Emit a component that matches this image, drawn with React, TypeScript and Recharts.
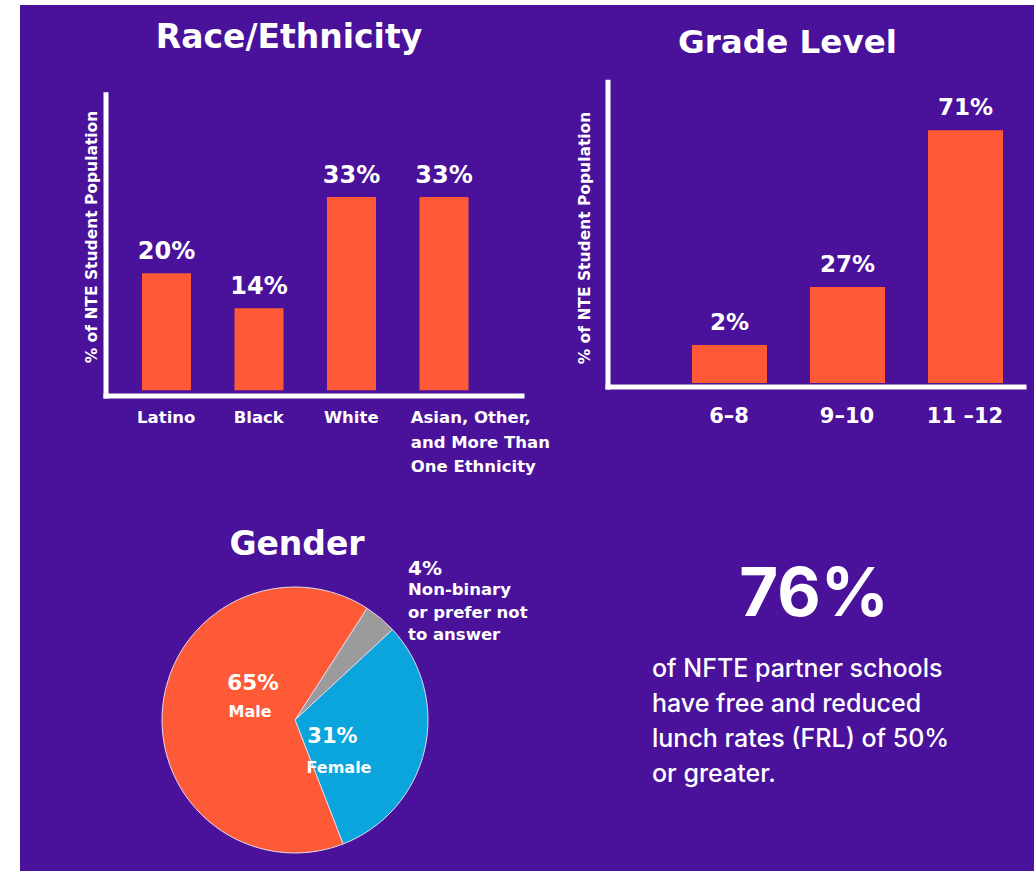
import React from 'react';
import { BarChart, Bar, XAxis, YAxis, LabelList, PieChart, Pie, Cell } from 'recharts';

// ---- data ----
const raceCategories = ['Latino', 'Black', 'White', 'Asian, Other,\nand More Than\nOne Ethnicity'];
const raceValues = [20, 14, 33, 33];

const gradeCategories = ['6–8', '9–10', '11 –12'];
const gradeValues = [2, 27, 71];

const genderLabels = ['Non-binary or prefer not to answer', 'Female', 'Male'];
const genderValues = [4, 31, 65];

const frlValue = 76;
const frlTextLines = [
  'of NFTE partner schools',
  'have free and reduced',
  'lunch rates (FRL) of 50%',
  'or greater.',
];

const yAxisTitle = '% of NTE Student Population';

// ---- styles ----
const PURPLE = '#4A129B';
const ORANGE = '#FF5A37';
const BLUE = '#0AA5DC';
const GRAY = '#9B9B9B';
const WHITE = '#FFFFFF';
const BOLD_FONT = '"DejaVu Sans", sans-serif';
const TEXT_FONT = 'Inter, "Noto Sans", sans-serif';

const raceData = raceCategories.map((c, i) => ({ cat: c, value: raceValues[i] }));
const gradeData = gradeCategories.map((c, i) => ({ cat: c, value: gradeValues[i] }));
const genderData = genderLabels.map((n, i) => ({ name: n, value: genderValues[i] }));
const genderColors = [GRAY, BLUE, ORANGE];

const pct = (v: any) => `${v}%`;

const RaceTick = (props: any) => {
  const { x, y, payload } = props;
  const lines = String(payload.value).split('\n');
  const multi = lines.length > 1;
  const tx = multi ? x - 33 : x;
  return (
    <text
      x={tx}
      y={y}
      textAnchor={multi ? 'start' : 'middle'}
      fill={WHITE}
      fontFamily={BOLD_FONT}
      fontWeight="bold"
      fontSize={16.5}
    >
      {lines.map((l, i) => (
        <tspan key={i} x={tx} dy={i === 0 ? 27 : 24.5}>
          {l}
        </tspan>
      ))}
    </text>
  );
};

const GradeTick = (props: any) => {
  const { x, y, payload } = props;
  return (
    <text x={x} y={y + 36} textAnchor="middle" fill={WHITE} fontFamily={BOLD_FONT} fontWeight="bold" fontSize={21}>
      {payload.value}
    </text>
  );
};

const axisLineStyle = { stroke: WHITE, strokeWidth: 5, strokeLinecap: 'square' as const };

export default function App() {
  return (
    <div style={{ position: 'absolute', left: 0, top: 0, width: 1034, height: 871, background: '#fff', overflow: 'hidden' }}>
      <div style={{ position: 'absolute', left: 20, top: 5, width: 1014, height: 866, background: PURPLE }} />

      {/* Race / Ethnicity */}
      <div style={{ position: 'absolute', left: 60, top: 60 }}>
        <BarChart width={500} height={416} data={raceData} margin={{ top: 34.75, right: 38, bottom: 0, left: 45 }}>
          <YAxis type="number" domain={[-1, 50.5]} width={1} tick={false} tickLine={false} axisLine={axisLineStyle} />
          <XAxis
            dataKey="cat"
            height={80}
            interval={0}
            tickLine={false}
            tickSize={0}
            tickMargin={0}
            padding={{ left: 14, right: 32 }}
            axisLine={axisLineStyle}
            tick={<RaceTick />}
          />
          <Bar dataKey="value" fill={ORANGE} barSize={49} isAnimationActive={false}>
            <LabelList
              dataKey="value"
              position="top"
              offset={14}
              formatter={pct}
              fill={WHITE}
              fontFamily={BOLD_FONT}
              fontWeight="bold"
              fontSize={24}
            />
          </Bar>
        </BarChart>
      </div>

      {/* Grade Level */}
      <div style={{ position: 'absolute', left: 560, top: 50 }}>
        <BarChart width={474} height={417} data={gradeData} margin={{ top: 32.2, right: 10, bottom: 0, left: 47 }}>
          <YAxis type="number" domain={[-1.1, 84.5]} width={1} tick={false} tickLine={false} axisLine={axisLineStyle} />
          <XAxis
            dataKey="cat"
            height={80}
            interval={0}
            tickLine={false}
            tickSize={0}
            tickMargin={0}
            padding={{ left: 62, right: 0 }}
            axisLine={axisLineStyle}
            tick={<GradeTick />}
          />
          <Bar dataKey="value" fill={ORANGE} barSize={75} minPointSize={38} isAnimationActive={false}>
            <LabelList
              dataKey="value"
              position="top"
              offset={15}
              formatter={pct}
              fill={WHITE}
              fontFamily={BOLD_FONT}
              fontWeight="bold"
              fontSize={23}
            />
          </Bar>
        </BarChart>
      </div>

      {/* Gender pie */}
      <div style={{ position: 'absolute', left: 145, top: 570 }}>
        <PieChart width={300} height={300} margin={{ top: 0, right: 0, bottom: 0, left: 0 }}>
          <Pie
            data={genderData}
            dataKey="value"
            nameKey="name"
            cx={150}
            cy={150}
            outerRadius={133}
            startAngle={57.2}
            endAngle={-302.8}
            stroke="#E2DAEE"
            strokeWidth={1}
            isAnimationActive={false}
          >
            {genderData.map((d, i) => (
              <Cell key={d.name} fill={genderColors[i]} />
            ))}
          </Pie>
        </PieChart>
      </div>

      {/* Text overlay */}
      <svg width={1034} height={871} style={{ position: 'absolute', left: 0, top: 0, pointerEvents: 'none' }}>
        <g fill={WHITE} fontFamily={BOLD_FONT} fontWeight="bold">
          <text x={289} y={48} textAnchor="middle" fontSize={33}>Race/Ethnicity</text>
          <text x={787.5} y={53} textAnchor="middle" fontSize={32.6}>Grade Level</text>
          <text x={297} y={555} textAnchor="middle" fontSize={33}>Gender</text>

          <text x={92} y={237} textAnchor="middle" dominantBaseline="central" fontSize={15.5} transform="rotate(-90 92 237)">
            {yAxisTitle}
          </text>
          <text x={585} y={238} textAnchor="middle" dominantBaseline="central" fontSize={15.5} transform="rotate(-90 585 238)">
            {yAxisTitle}
          </text>

          <text x={253} y={690} textAnchor="middle" fontSize={21.5}>{pct(genderValues[2])}</text>
          <text x={250} y={716.5} textAnchor="middle" fontSize={16}>Male</text>
          <text x={332.5} y={743} textAnchor="middle" fontSize={21}>{pct(genderValues[1])}</text>
          <text x={339} y={773} textAnchor="middle" fontSize={16}>Female</text>

          <text x={408} y={575} fontSize={20}>{pct(genderValues[0])}</text>
          <text x={408} y={595} fontSize={16.5}>Non-binary</text>
          <text x={408} y={617.5} fontSize={16.5}>or prefer not</text>
          <text x={408} y={640} fontSize={16.5}>to answer</text>
        </g>
        <g fill={WHITE} fontFamily={TEXT_FONT}>
          <text x={814} y={616} textAnchor="middle" fontSize={67} fontWeight={700}>{pct(frlValue)}</text>
          {frlTextLines.map((l, i) => (
            <text key={i} x={652} y={677 + i * 35} fontSize={25} fontWeight={500}>
              {l}
            </text>
          ))}
        </g>
      </svg>
    </div>
  );
}
